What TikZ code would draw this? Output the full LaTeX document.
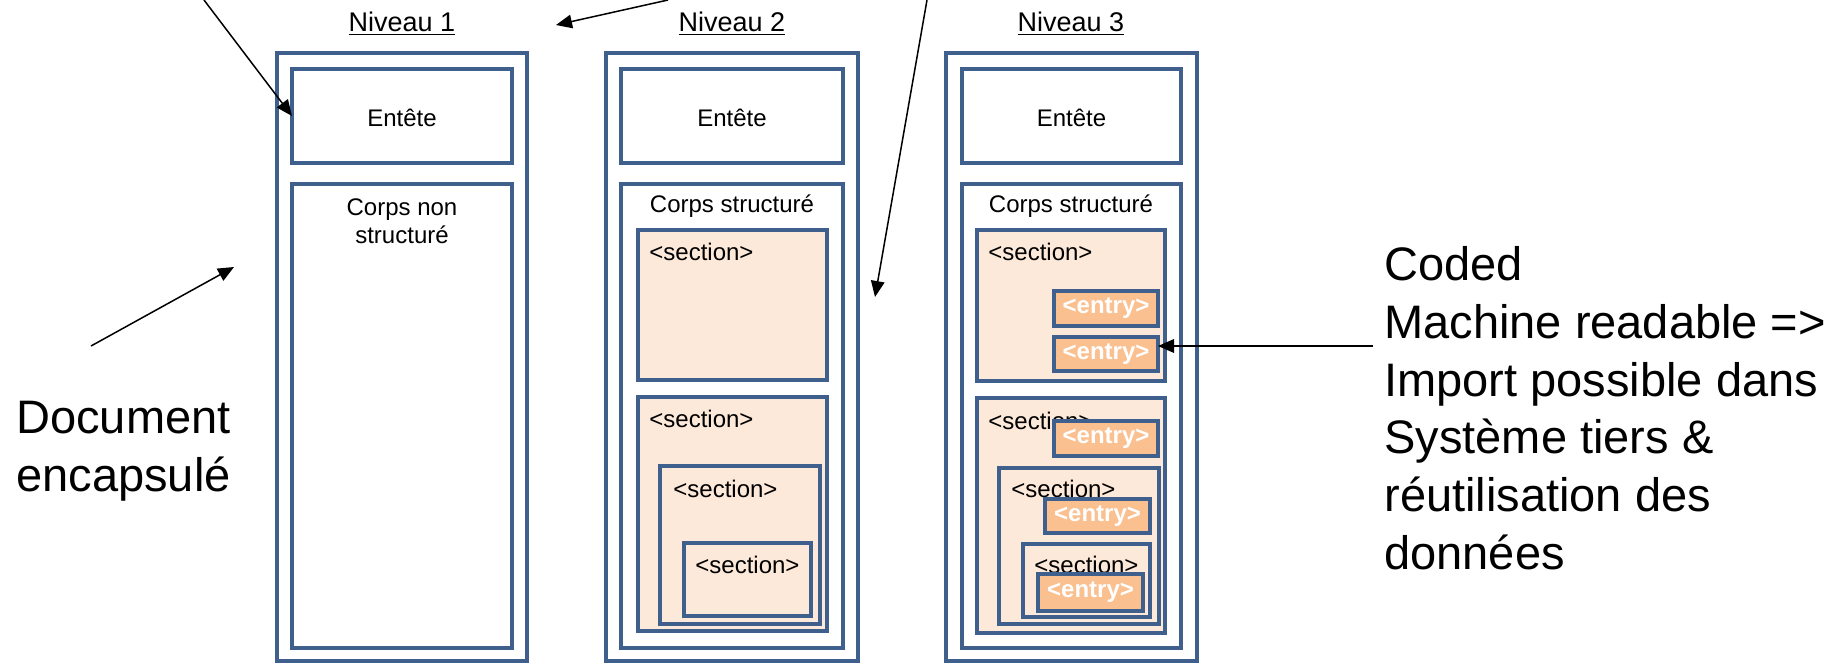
\documentclass[tikz,border=0pt]{standalone}
\usepackage{fontspec}
\setmainfont{Liberation Sans}
\usetikzlibrary{arrows.meta,fit}
\definecolor{frameblue}{RGB}{63,96,140}
\definecolor{secfill}{RGB}{253,233,217}
\definecolor{entryfill}{RGB}{250,192,144}

\begin{document}
\begin{tikzpicture}[x=0.5pt,y=-0.5pt,
  frame/.style={draw=frameblue, line width=2pt, inner sep=0pt, outer sep=0pt},
  part/.style={draw=frameblue, line width=1.75pt, fill=white, inner sep=0pt, outer sep=0pt},
  sect/.style={draw=frameblue, line width=2pt, fill=secfill, inner sep=0pt, outer sep=0pt},
  sectthin/.style={sect, line width=1.65pt},
  entrybox/.style={draw=frameblue, line width=2.25pt, fill=entryfill, inner sep=0pt, outer sep=0pt},
  entrytxt/.style={text=white, font=\bfseries\fontsize{12}{14.4}\selectfont, inner sep=0pt},
  lbl/.style={font=\fontsize{12}{14.4}\selectfont, inner sep=0pt},
  seclbl/.style={lbl, anchor=west},
  title/.style={font=\fontsize{13.5}{16}\selectfont, inner sep=0pt, anchor=base},
  note/.style={font=\fontsize{23.5}{28.9}\selectfont, align=left, inner sep=0pt, anchor=north west},
  arr/.style={-{Triangle[length=8pt,width=6.8pt]}, line width=0.75pt, black}
]
\useasboundingbox (0,0) rectangle (1842,666);

% ---------- column titles ----------
\node[title] (t1) at (402,31) {\underline{Niveau 1}};
\node[title] (t2) at (732,31) {\underline{Niveau 2}};
\node[title] (t3) at (1071,31) {\underline{Niveau 3}};

% ---------- Niveau 1 ----------
\node[frame, fit={(277,53) (527,661)}] (out1) {};
\node[part, fit={(292,69) (512,163)}] (ent1) {};
\node[lbl] (ent1t) at ([yshift=-1pt]ent1.center) {Entête};
\node[part, fit={(292,184) (512,648)}] (corps1) {};
\node[lbl, align=center, anchor=north] (corps1t) at (402,198) {Corps non\\structuré};

% ---------- Niveau 2 ----------
\node[frame, fit={(606,53) (858,661)}] (out2) {};
\node[part, fit={(621,69) (843,163)}] (ent2) {};
\node[lbl] (ent2t) at ([yshift=-1pt]ent2.center) {Entête};
\node[part, fit={(621,184) (843,648)}] (corps2) {};
\node[lbl] (corps2t) at (732,206) {Corps structuré};
\node[sect, fit={(638,230) (827,380)}] (s2a) {};
\node[seclbl] (s2at) at (649,251.5) {<section>};
\node[sect, fit={(638,397) (827,631)}] (s2b) {};
\node[seclbl] (s2bt) at (649,418.5) {<section>};
\node[sect, fit={(660,466) (820,624)}] (s2c) {};
\node[seclbl] (s2ct) at (673,488.5) {<section>};
\node[sectthin, fit={(684,543) (811,616)}] (s2d) {};
\node[seclbl] (s2dt) at (695,564.5) {<section>};

% ---------- Niveau 3 ----------
\node[frame, fit={(946,53) (1197,661)}] (out3) {};
\node[part, fit={(962,69) (1181,163)}] (ent3) {};
\node[lbl] (ent3t) at ([yshift=-1pt]ent3.center) {Entête};
\node[part, fit={(962,184) (1181,648)}] (corps3) {};
\node[lbl] (corps3t) at (1071,206) {Corps structuré};
\node[sect, fit={(977,230) (1165,381)}] (s3a) {};
\node[seclbl] (s3at) at (988,251.5) {<section>};
\node[entrybox, fit={(1054,291) (1158,326)}] (ea1) {};
\node[entrytxt] (ea1t) at (ea1.center) {<entry>};
\node[entrybox, fit={(1054,337) (1158,371)}] (ea2) {};
\node[entrytxt] (ea2t) at (ea2.center) {<entry>};

\node[sect, fit={(977,398) (1165,633)}] (s3b) {};
\node[seclbl] (s3bt) at (988,420.5) {<section>};
\node[entrybox, fit={(1054,421) (1158,456)}] (eb1) {};
\node[entrytxt] (eb1t) at (eb1.center) {<entry>};
\node[sect, fit={(999,468) (1159,624)}] (s3c) {};
\node[seclbl] (s3ct) at (1011,488.5) {<section>};
\node[entrybox, fit={(1045,499) (1150,533)}] (ec1) {};
\node[entrytxt] (ec1t) at (ec1.center) {<entry>};
\node[sectthin, fit={(1023,544) (1150,617)}] (s3d) {};
\node[seclbl] (s3dt) at (1034,564.5) {<section>};
\node[entrybox, fit={(1038,574) (1143,611)}] (ed1) {};
\node[entrytxt] (ed1t) at (ed1.center) {<entry>};

% ---------- side notes ----------
\node[note] (doc) at (16,401) {Document\\encapsulé};
\node[note] (coded) at (1384,246) {Coded\\Machine readable =>\\Import possible dans\\Système tiers \&\\réutilisation des\\données};

% ---------- pointers ----------
\coordinate (p1) at (204,0);
\coordinate (p2s) at (668,0);
\coordinate (p2e) at (556,25);
\coordinate (p3s) at (927,0);
\coordinate (p3e) at (875,297);
\coordinate (p4s) at (91,346);
\coordinate (p4e) at (234,267);
\coordinate (p5s) at (1373,346);

\draw[arr] (p1) -- (ent1.west);
\draw[arr] (p2s) -- (p2e);
\draw[arr] (p3s) -- (p3e);
\draw[arr] (p4s) -- (p4e);
\draw[arr] (p5s) -- (p5s -| ea2.east);
\end{tikzpicture}
\end{document}
